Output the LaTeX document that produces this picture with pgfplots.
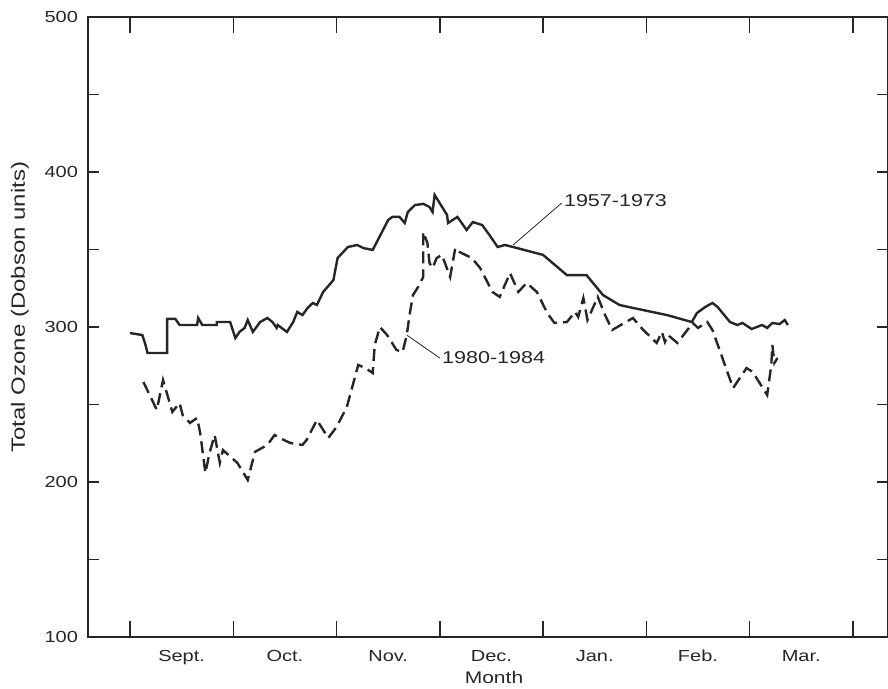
\documentclass[border=0pt]{standalone}
\usepackage{pgfplots}
\pgfplotsset{compat=1.18}
\usepackage{fontspec}
\setmainfont{Liberation Sans}[FakeStretch=1.25]
\definecolor{ink}{HTML}{262626}
\begin{document}
\begin{tikzpicture}
\useasboundingbox (-44pt,-26pt) rectangle (400pt,318.5pt);
\begin{axis}[
  at={(0pt,0pt)}, anchor=south west,
  scale only axis, width=400pt, height=310pt,
  xmin=-0.4066, xmax=7.34, ymin=100, ymax=500,
  axis line style={draw=ink, line width=0.7pt},
  tick style={draw=ink, line width=0.7pt},
  tick align=inside,
  major tick length=5.5pt, minor tick length=8pt,
  xtick={0.5,1.5,2.5,3.5,4.5,5.5,6.5},
  xticklabels={Sept.,Oct.,Nov.,Dec.,Jan.,Feb.,Mar.},
  major x tick style={draw=none},
  minor xtick={0,1,2,3,4,5,6,7},
  ytick={100,150,200,250,300,350,400,450,500},
  yticklabels={100,,200,,300,,400,,500},
  /pgf/number format/assume math mode=true,
  ticklabel style={font=\fontsize{8}{9}\selectfont, text=ink},
  xticklabel style={yshift=-3pt},
  yticklabel style={xshift=-1.5pt},
  xlabel={Month}, ylabel={Total Ozone (Dobson units)},
  xlabel style={font=\fontsize{8.4}{9}\selectfont, text=ink, at={(axis description cs:0.5075,-0.066)}, anchor=center},
  ylabel style={font=\fontsize{9.6}{10}\selectfont, text=ink, at={(axis description cs:-0.085,0.532)}, anchor=center, rotate=0},
  clip=false,
]
% 1957-1973
\addplot[ink, line width=1.2pt] coordinates {
(0.00,296.1)(0.12,294.8)(0.15,288.4)(0.17,283.2)(0.36,283.2)(0.36,305.2)
(0.44,305.2)(0.46,303.2)(0.48,301.3)(0.65,301.3)(0.66,305.8)(0.70,301.3)
(0.84,301.3)(0.84,303.2)(0.97,303.2)(1.02,292.9)(1.06,296.8)(1.11,299.4)
(1.14,304.5)(1.19,296.8)(1.26,303.2)(1.33,305.8)(1.38,303.2)(1.42,299.4)
(1.43,301.3)(1.52,296.8)(1.58,303.2)(1.62,309.7)(1.67,307.7)(1.72,312.3)
(1.77,315.5)(1.81,314.2)(1.87,322.6)(1.97,330.3)(2.01,344.5)(2.11,351.6)
(2.20,352.9)(2.26,350.9)(2.35,349.7)(2.40,356.1)(2.50,369.0)(2.54,371.0)
(2.61,371.0)(2.66,367.1)(2.69,374.2)(2.76,378.7)(2.84,379.4)(2.90,377.4)
(2.93,374.2)(2.95,385.2)(3.07,372.3)(3.08,367.1)(3.17,371.0)(3.26,362.6)
(3.32,367.7)(3.41,365.8)(3.48,359.4)(3.56,351.6)(3.63,352.9)(3.71,351.6)
(4.00,346.5)(4.23,333.5)(4.42,333.5)(4.58,320.6)(4.74,314.2)(4.87,312.3)
(5.20,307.7)(5.44,303.2)(5.49,309.0)(5.57,312.9)(5.64,315.5)(5.69,312.9)
(5.81,303.2)(5.88,301.3)(5.93,302.6)(6.02,298.7)(6.07,300.0)(6.12,301.3)
(6.17,299.4)(6.22,302.6)(6.29,301.9)(6.34,304.5)(6.37,301.3)
};
% 1980-1984
\addplot[ink, line width=1.2pt, dash pattern=on 6pt off 3pt] coordinates {
(0.13,264.5)(0.26,246.5)(0.32,265.8)(0.41,245.2)(0.48,251.0)(0.51,243.2)
(0.58,238.1)(0.65,241.3)(0.68,231.6)(0.73,205.8)(0.77,218.7)(0.82,230.3)
(0.87,212.3)(0.90,220.6)(1.04,212.3)(1.14,201.3)(1.21,219.4)(1.33,223.9)
(1.40,230.3)(1.45,228.4)(1.55,225.2)(1.67,223.9)(1.71,227.1)(1.81,240.0)
(1.92,228.4)(2.00,235.5)(2.10,248.4)(2.21,275.5)(2.28,273.5)(2.35,270.3)
(2.37,288.4)(2.42,300.0)(2.49,294.8)(2.58,285.2)(2.64,283.9)(2.68,294.8)
(2.71,309.0)(2.74,320.6)(2.79,325.8)(2.84,332.3)(2.84,361.3)(2.88,354.2)
(2.90,341.3)(2.93,338.1)(2.97,344.5)(3.02,346.5)(3.05,341.3)(3.10,332.3)
(3.15,351.0)(3.19,348.4)(3.31,344.5)(3.39,338.1)(3.51,322.6)(3.58,319.4)
(3.68,334.8)(3.76,322.6)(3.84,328.4)(3.94,322.6)(4.04,309.0)(4.11,302.6)
(4.23,303.2)(4.31,309.7)(4.34,306.5)(4.39,318.7)(4.43,304.5)(4.53,319.4)
(4.60,307.7)(4.67,298.1)(4.87,305.8)(4.97,298.1)(5.10,289.7)(5.15,296.8)
(5.18,290.3)(5.21,294.8)(5.30,289.7)(5.45,302.6)(5.50,299.4)(5.59,303.2)
(5.64,298.1)(5.84,260.6)(5.97,273.5)(6.03,271.0)(6.17,256.1)(6.21,275.5)
(6.22,288.4)(6.24,276.8)(6.27,280.0)
};
\draw[ink, line width=0.4pt] (axis cs:3.71,352.9) -- (axis cs:4.18,380.0);
\node[anchor=west, inner sep=1pt, text=ink, font=\fontsize{8.6}{9}\selectfont] at (axis cs:4.18,381.5) {1957-1973};
\draw[ink, line width=0.4pt] (axis cs:2.68,294.8) -- (axis cs:3.00,280.0);
\node[anchor=west, inner sep=1pt, text=ink, font=\fontsize{8.6}{9}\selectfont] at (axis cs:3.00,280.0) {1980-1984};
\end{axis}
\end{tikzpicture}
\end{document}
